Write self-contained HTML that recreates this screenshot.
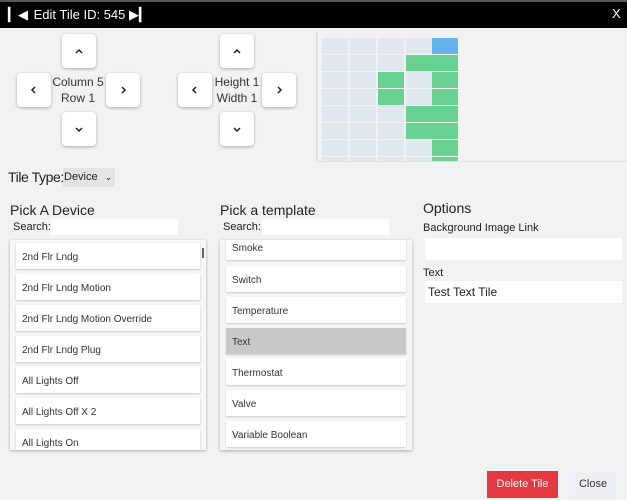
<!DOCTYPE html>
<html><head><style>
*{box-sizing:border-box;margin:0;padding:0}
body{width:627px;height:500px;background:#f2f2f2;font-family:"Liberation Sans",sans-serif;position:relative;overflow:hidden;color:#222}
.a{position:absolute;white-space:nowrap}
.btn{position:absolute;width:34px;height:34px;background:#fff;border-radius:4px;box-shadow:0 1px 3px rgba(0,0,0,.3)}
.btn svg{position:absolute;left:12px;top:12px}
.lbl{position:absolute;font-size:12px;text-align:center;width:70px;color:#333}
.it{position:absolute;background:#fff;height:26px;box-shadow:0 1px 2px rgba(0,0,0,.2);font-size:10px;line-height:29px;padding-left:6px;color:#333;overflow:hidden;white-space:nowrap}
.cell{position:absolute;width:26px;height:16px;background:#e1e7ef}
.g{background:#68d391}
</style></head><body>
<div class="a" style="left:0;top:0;width:627px;height:28px;background:#000;border-top:2px solid #555"></div>
<div class="a" style="left:8px;top:7px;color:#fff;font-size:13px">&#9614;&#9664; <span style="margin-left:2px">Edit Tile ID: 545</span> &#9654;&#9614;</div>
<div class="a" style="left:612px;top:6px;color:#fff;font-size:13px">X</div>

<div class="btn" style="left:62px;top:34px"><svg width="10" height="10"><path d="M2 7 L5 4 L8 7" stroke="#222" stroke-width="1.5" fill="none"/></svg></div>
<div class="btn" style="left:17px;top:73px"><svg width="10" height="10"><path d="M6 2 L3 5 L6 8" stroke="#222" stroke-width="1.5" fill="none"/></svg></div>
<div class="btn" style="left:106px;top:73px"><svg width="10" height="10"><path d="M4 2 L7 5 L4 8" stroke="#222" stroke-width="1.5" fill="none"/></svg></div>
<div class="btn" style="left:62px;top:112px"><svg width="10" height="10"><path d="M2 4 L5 7 L8 4" stroke="#222" stroke-width="1.5" fill="none"/></svg></div>
<div class="lbl" style="left:43px;top:75px">Column 5</div>
<div class="lbl" style="left:43px;top:91px">Row 1</div>
<div class="btn" style="left:220px;top:34px"><svg width="10" height="10"><path d="M2 7 L5 4 L8 7" stroke="#222" stroke-width="1.5" fill="none"/></svg></div>
<div class="btn" style="left:178px;top:73px"><svg width="10" height="10"><path d="M6 2 L3 5 L6 8" stroke="#222" stroke-width="1.5" fill="none"/></svg></div>
<div class="btn" style="left:262px;top:73px"><svg width="10" height="10"><path d="M4 2 L7 5 L4 8" stroke="#222" stroke-width="1.5" fill="none"/></svg></div>
<div class="btn" style="left:220px;top:112px"><svg width="10" height="10"><path d="M2 4 L5 7 L8 4" stroke="#222" stroke-width="1.5" fill="none"/></svg></div>
<div class="lbl" style="left:202px;top:75px">Height 1</div>
<div class="lbl" style="left:202px;top:91px">Width 1</div>

<div class="a" style="left:316px;top:31px;width:311px;height:131px;background:#f2f2f2;border-left:2px solid #e0e4ea;border-bottom:1px solid #e0e0e0"></div>
<div id="grid"></div>
<script>
var xs=[322,350,378,406,432],g={0:[4],1:[3,4],2:[2,4],3:[2,4],4:[3,4],5:[3,4],6:[4],7:[4]};var h='';
for(var r=0;r<8;r++){for(var c=0;c<5;c++){var y=38+r*17,hh=r==7?4:16;var cls='cell';var st='';
if(r==0&&c==4)st='background:#63b3ed;';else if(g[r].indexOf(c)>=0)cls+=' g';
h+='<div class="'+cls+'" style="left:'+xs[c]+'px;top:'+y+'px;height:'+hh+'px;'+st+'"></div>';}}
document.getElementById('grid').innerHTML=h;
</script>

<div class="a" style="left:8px;top:169px;font-size:14px;letter-spacing:-0.4px">Tile Type:</div>
<div class="a" style="left:63px;top:168px;width:52px;height:19px;background:#e4e4e4;font-size:11px;line-height:19px;padding-left:1px">Device <span style="font-size:9px;margin-left:4px">&#8964;</span></div>

<div class="a" style="left:10px;top:202px;font-size:14px">Pick A Device</div>
<div class="a" style="left:13px;top:221px;font-size:11px">Search:</div>
<div class="a" style="left:51px;top:219px;width:127px;height:16px;background:#fff"></div>
<div class="a" style="left:220px;top:202px;font-size:14px">Pick a template</div>
<div class="a" style="left:223px;top:221px;font-size:11px">Search:</div>
<div class="a" style="left:262px;top:219px;width:127px;height:16px;background:#fff"></div>

<div class="a" style="left:10px;top:240px;width:196px;height:210px;background:#f7f7f7;box-shadow:0 1px 3px rgba(0,0,0,.3);overflow:hidden">
<div class="a" style="left:192px;top:8px;width:2px;height:10px;background:#666"></div>
<div class="it" style="left:6px;top:3px;width:184px">2nd Flr Lndg</div>
<div class="it" style="left:6px;top:34px;width:184px">2nd Flr Lndg Motion</div>
<div class="it" style="left:6px;top:65px;width:184px">2nd Flr Lndg Motion Override</div>
<div class="it" style="left:6px;top:96px;width:184px">2nd Flr Lndg Plug</div>
<div class="it" style="left:6px;top:127px;width:184px">All Lights Off</div>
<div class="it" style="left:6px;top:158px;width:184px">All Lights Off X 2</div>
<div class="it" style="left:6px;top:189px;width:184px">All Lights On</div>
</div>
<div class="a" style="left:220px;top:240px;width:192px;height:210px;background:#f7f7f7;box-shadow:0 1px 3px rgba(0,0,0,.3);overflow:hidden">
<div class="it" style="left:6px;top:-6px;width:180px">Smoke</div>
<div class="it" style="left:6px;top:26px;width:180px">Switch</div>
<div class="it" style="left:6px;top:57px;width:180px">Temperature</div>
<div class="it" style="left:6px;top:88px;width:180px;background:#c8c8c8">Text</div>
<div class="it" style="left:6px;top:119px;width:180px">Thermostat</div>
<div class="it" style="left:6px;top:150px;width:180px">Valve</div>
<div class="it" style="left:6px;top:181px;width:180px">Variable Boolean</div>
</div>

<div class="a" style="left:423px;top:200px;font-size:14px">Options</div>
<div class="a" style="left:423px;top:222px;font-size:11px">Background Image Link</div>
<div class="a" style="left:425px;top:238px;width:197px;height:22px;background:#fff"></div>
<div class="a" style="left:423px;top:267px;font-size:11px">Text</div>
<div class="a" style="left:425px;top:281px;width:197px;height:22px;background:#fff;font-size:12px;line-height:22px;padding-left:3px">Test Text Tile</div>

<div class="a" style="left:487px;top:471px;width:71px;height:27px;background:#e53840;color:#fff;font-size:11px;text-align:center;line-height:27px">Delete Tile</div>
<div class="a" style="left:569px;top:471px;width:48px;height:27px;background:#eceff3;color:#333;font-size:11px;text-align:center;line-height:27px">Close</div>
</body></html>
